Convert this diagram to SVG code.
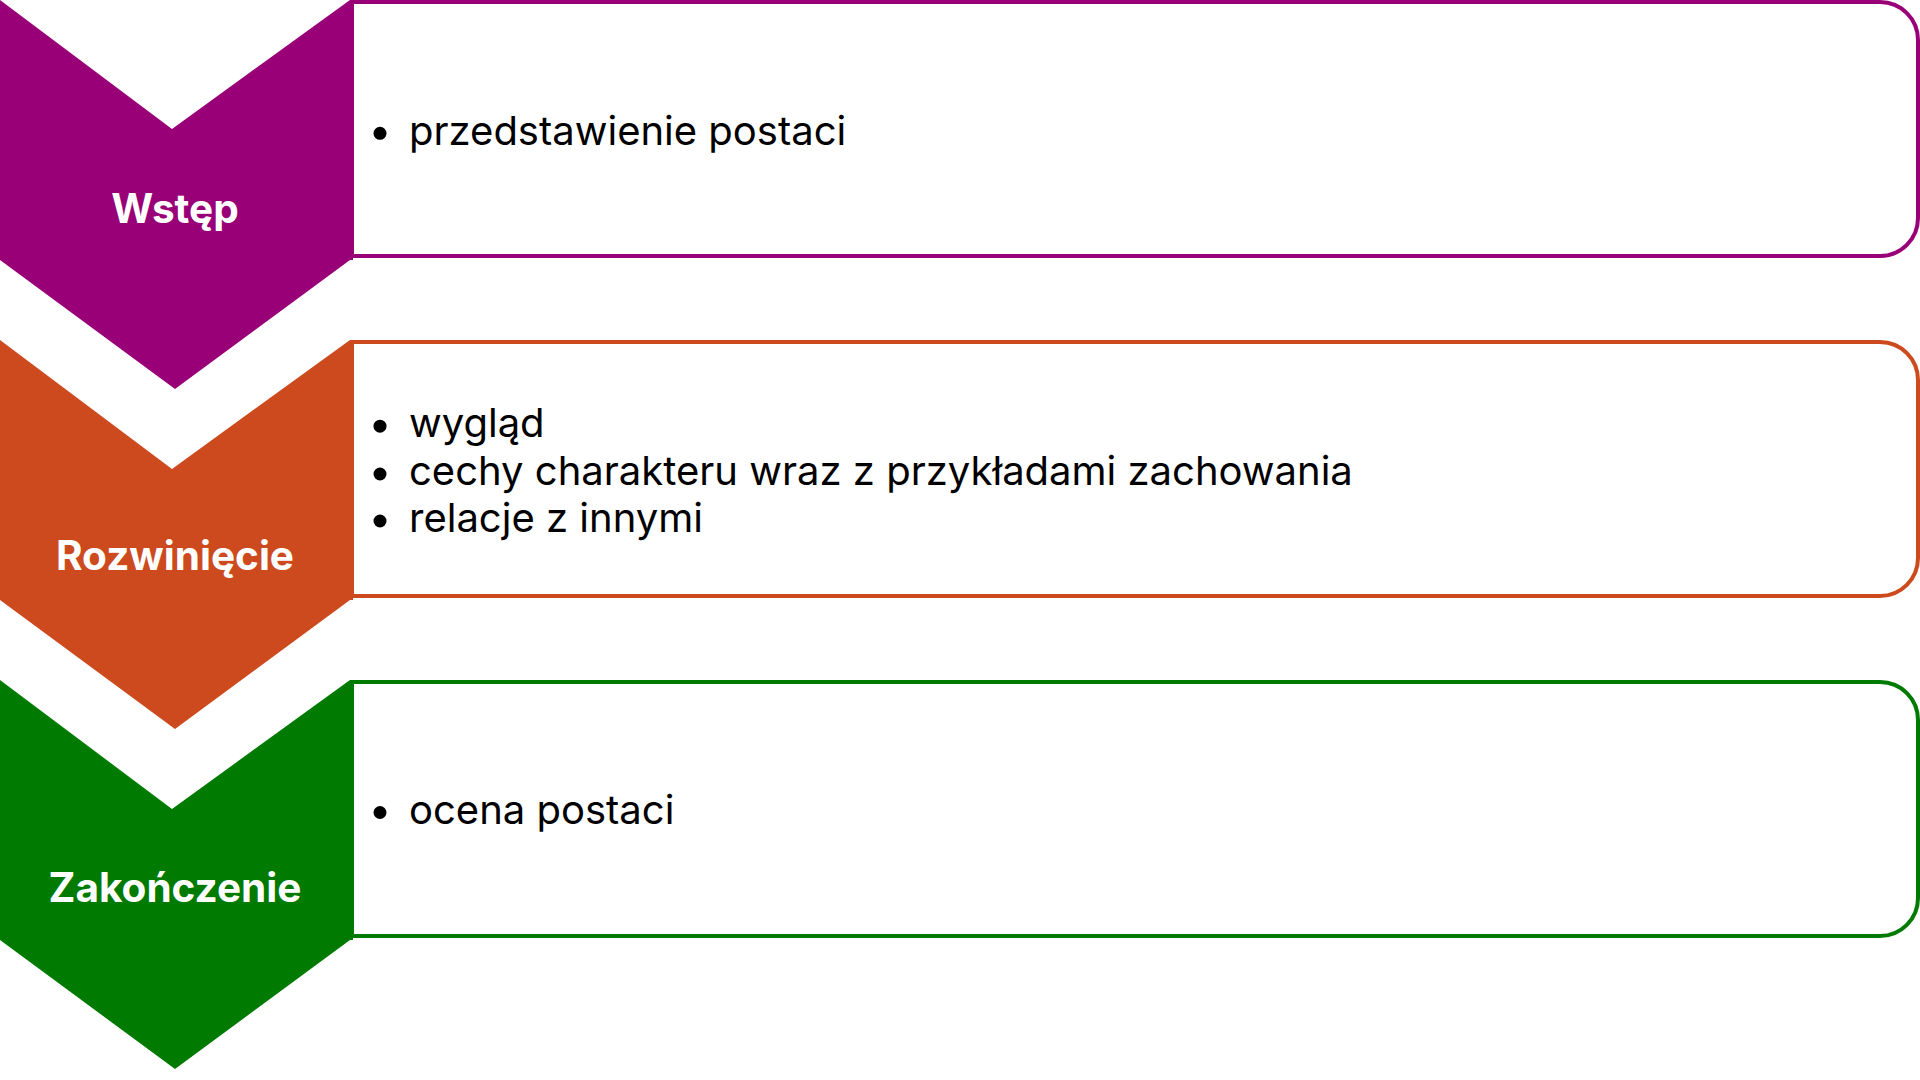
<svg xmlns="http://www.w3.org/2000/svg" width="1920" height="1080" viewBox="0 0 1920 1080">
<style>
.box{fill:#ffffff;stroke-width:4}
.lbl{font-family:Inter,"Liberation Sans",sans-serif;font-weight:700;font-size:40.5px;fill:#ffffff;text-anchor:middle}
.item{font-family:Inter,"Liberation Sans",sans-serif;font-size:40px;fill:#000000}
.dot{fill:#000000}
</style>
<defs>
<path id="chev" d="M0,0 L172,129 L350,0 L353,0 L353,260 L350,260 L175,389 L0,260 Z"/>
<path id="frame" d="M352,2 H1880 A38,38 0 0 1 1918,40 V218 A38,38 0 0 1 1880,256 H352 Z"/>
</defs>
<rect width="1920" height="1080" fill="#ffffff"/>
<g id="connectors"></g>
<g id="node-wstep">
<use href="#frame" class="box" stroke="#990077"/>
<use href="#chev" fill="#990077"/>
<text class="lbl" x="175" y="223">Wstęp</text>
<circle class="dot" cx="380" cy="133.3" r="6.5"/>
<text class="item" x="409" y="145">przedstawienie postaci</text>
</g>
<g id="node-rozwiniecie" transform="translate(0,340)">
<use href="#frame" class="box" stroke="#CC4A1D"/>
<use href="#chev" fill="#CC4A1D"/>
<text class="lbl" x="175" y="229.5">Rozwinięcie</text>
<circle class="dot" cx="380" cy="86.2" r="6.5"/>
<text class="item" x="409" y="97.2">wygląd</text>
<circle class="dot" cx="380" cy="134" r="6.5"/>
<text class="item" x="409" y="145.2">cechy charakteru wraz z przykładami zachowania</text>
<circle class="dot" cx="380" cy="181" r="6.5"/>
<text class="item" x="409" y="192.2">relacje z innymi</text>
</g>
<g id="node-zakonczenie" transform="translate(0,680)">
<use href="#frame" class="box" stroke="#007A00"/>
<use href="#chev" fill="#007A00"/>
<text class="lbl" x="175" y="222">Zakończenie</text>
<circle class="dot" cx="380" cy="132.5" r="6.5"/>
<text class="item" x="409" y="144">ocena postaci</text>
</g>
</svg>
